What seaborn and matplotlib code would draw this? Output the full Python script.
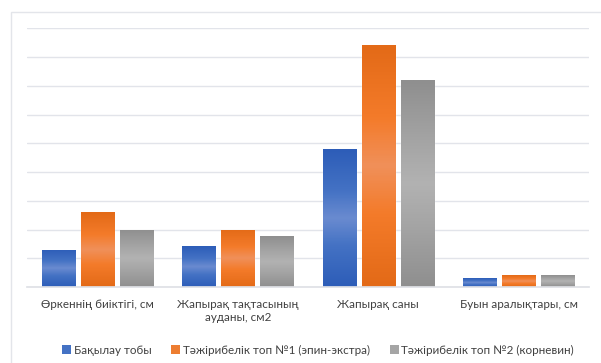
import numpy as np
import pandas as pd
import matplotlib
matplotlib.use("Agg")
import matplotlib.pyplot as plt
from matplotlib.colors import LinearSegmentedColormap
from matplotlib.patches import Rectangle, Patch
import seaborn as sns

categories = ["Өркеннің биіктігі, см", "Жапырақ тақтасының\nауданы, см2",
              "Жапырақ саны", "Буын аралықтары, см"]
series = ["Бақылау тобы", "Тәжірибелік топ №1 (эпин-экстра)",
          "Тәжірибелік топ №2 (корневин)"]
control = [6.5, 7.1, 24.0, 1.5]
epin = [13.0, 10.0, 42.1, 2.05]
kornevin = [10.0, 8.8, 36.0, 2.05]

colors = ["#4472C4", "#ED7D31", "#A5A5A5"]
grads = [("#2d5db8", "#4472C4", "#6a8bd0"),
         ("#e36a17", "#f47b2a", "#f0905a"),
         ("#8f8f8f", "#a5a5a5", "#b2b2b2")]

df = pd.DataFrame({
    "category": np.repeat(categories, 3),
    "series": series * 4,
    "value": [v for trio in zip(control, epin, kornevin) for v in trio],
})

sns.set_theme(style="white")
plt.rcParams["font.family"] = ["Lato", "Noto Sans", "DejaVu Sans"]

FS = 8.4
W, H = 601, 363
fig = plt.figure(figsize=(W / 100, H / 100), dpi=100)
ax = fig.add_axes([27 / W, 1 - 287 / H, (589 - 27) / W, (287 - 28.3) / H])

sns.barplot(data=df, x="category", y="value", hue="series", order=categories,
            hue_order=series, palette=colors, width=0.834, gap=0.15,
            saturation=1, ax=ax, legend=False)

ax.set_xlim(-0.5, 3.5)
ax.set_ylim(0, 45)
ax.set_yticks(np.arange(0, 46, 5))
ax.set_yticklabels([])
ax.tick_params(axis="y", length=0)
ax.tick_params(axis="x", length=0, pad=9, labelsize=FS, labelcolor="#404040")
for lbl in ax.get_xticklabels():
    lbl.set_linespacing(1.15)
ax.grid(axis="y", color="#e2e4ea", linewidth=1)
ax.set_axisbelow(True)
for s in ["top", "right", "left"]:
    ax.spines[s].set_visible(False)
ax.spines["bottom"].set_color("#dfe1e6")
ax.set_xlabel("")
ax.set_ylabel("")

# gradient fill for each bar
hexcols = [matplotlib.colors.to_hex(c).lower() for c in colors]
bars = [p for p in ax.patches if isinstance(p, Rectangle)]
for p in bars:
    fc = matplotlib.colors.to_hex(p.get_facecolor()).lower()
    idx = hexcols.index(fc) if fc in hexcols else 0
    dark, base, light = grads[idx]
    cmap = LinearSegmentedColormap.from_list(
        "g", [(0, dark), (0.3, base), (0.5, light), (0.7, base), (1, dark)])
    x0, y0 = p.get_x(), p.get_y()
    w, h = p.get_width(), p.get_height()
    grad = np.linspace(0, 1, 96).reshape(-1, 1)
    im = ax.imshow(grad, cmap=cmap, aspect="auto", origin="lower",
                   extent=[x0, x0 + w, y0, y0 + h], zorder=p.get_zorder() + 0.1)
    im.set_clip_path(p)

ax.set_xlim(-0.5, 3.5)
ax.set_ylim(0, 45)

# outer chart border
fig.patches.append(Rectangle((11 / W, -0.1), 1.2, 1 - 12 / H + 0.1,
                             transform=fig.transFigure, fill=False,
                             edgecolor="#e3e5ea", linewidth=1))

handles = [Patch(facecolor=c, edgecolor="none") for c in colors]
fig.legend(handles, series, loc="center", bbox_to_anchor=(318 / W, 1 - 350 / H),
           ncol=3, frameon=False, fontsize=FS, handlelength=0.78,
           handleheight=0.78, handletextpad=0.2, columnspacing=1.7,
           labelcolor="#404040", borderpad=0, borderaxespad=0)

fig.savefig("out.png", dpi=100)
